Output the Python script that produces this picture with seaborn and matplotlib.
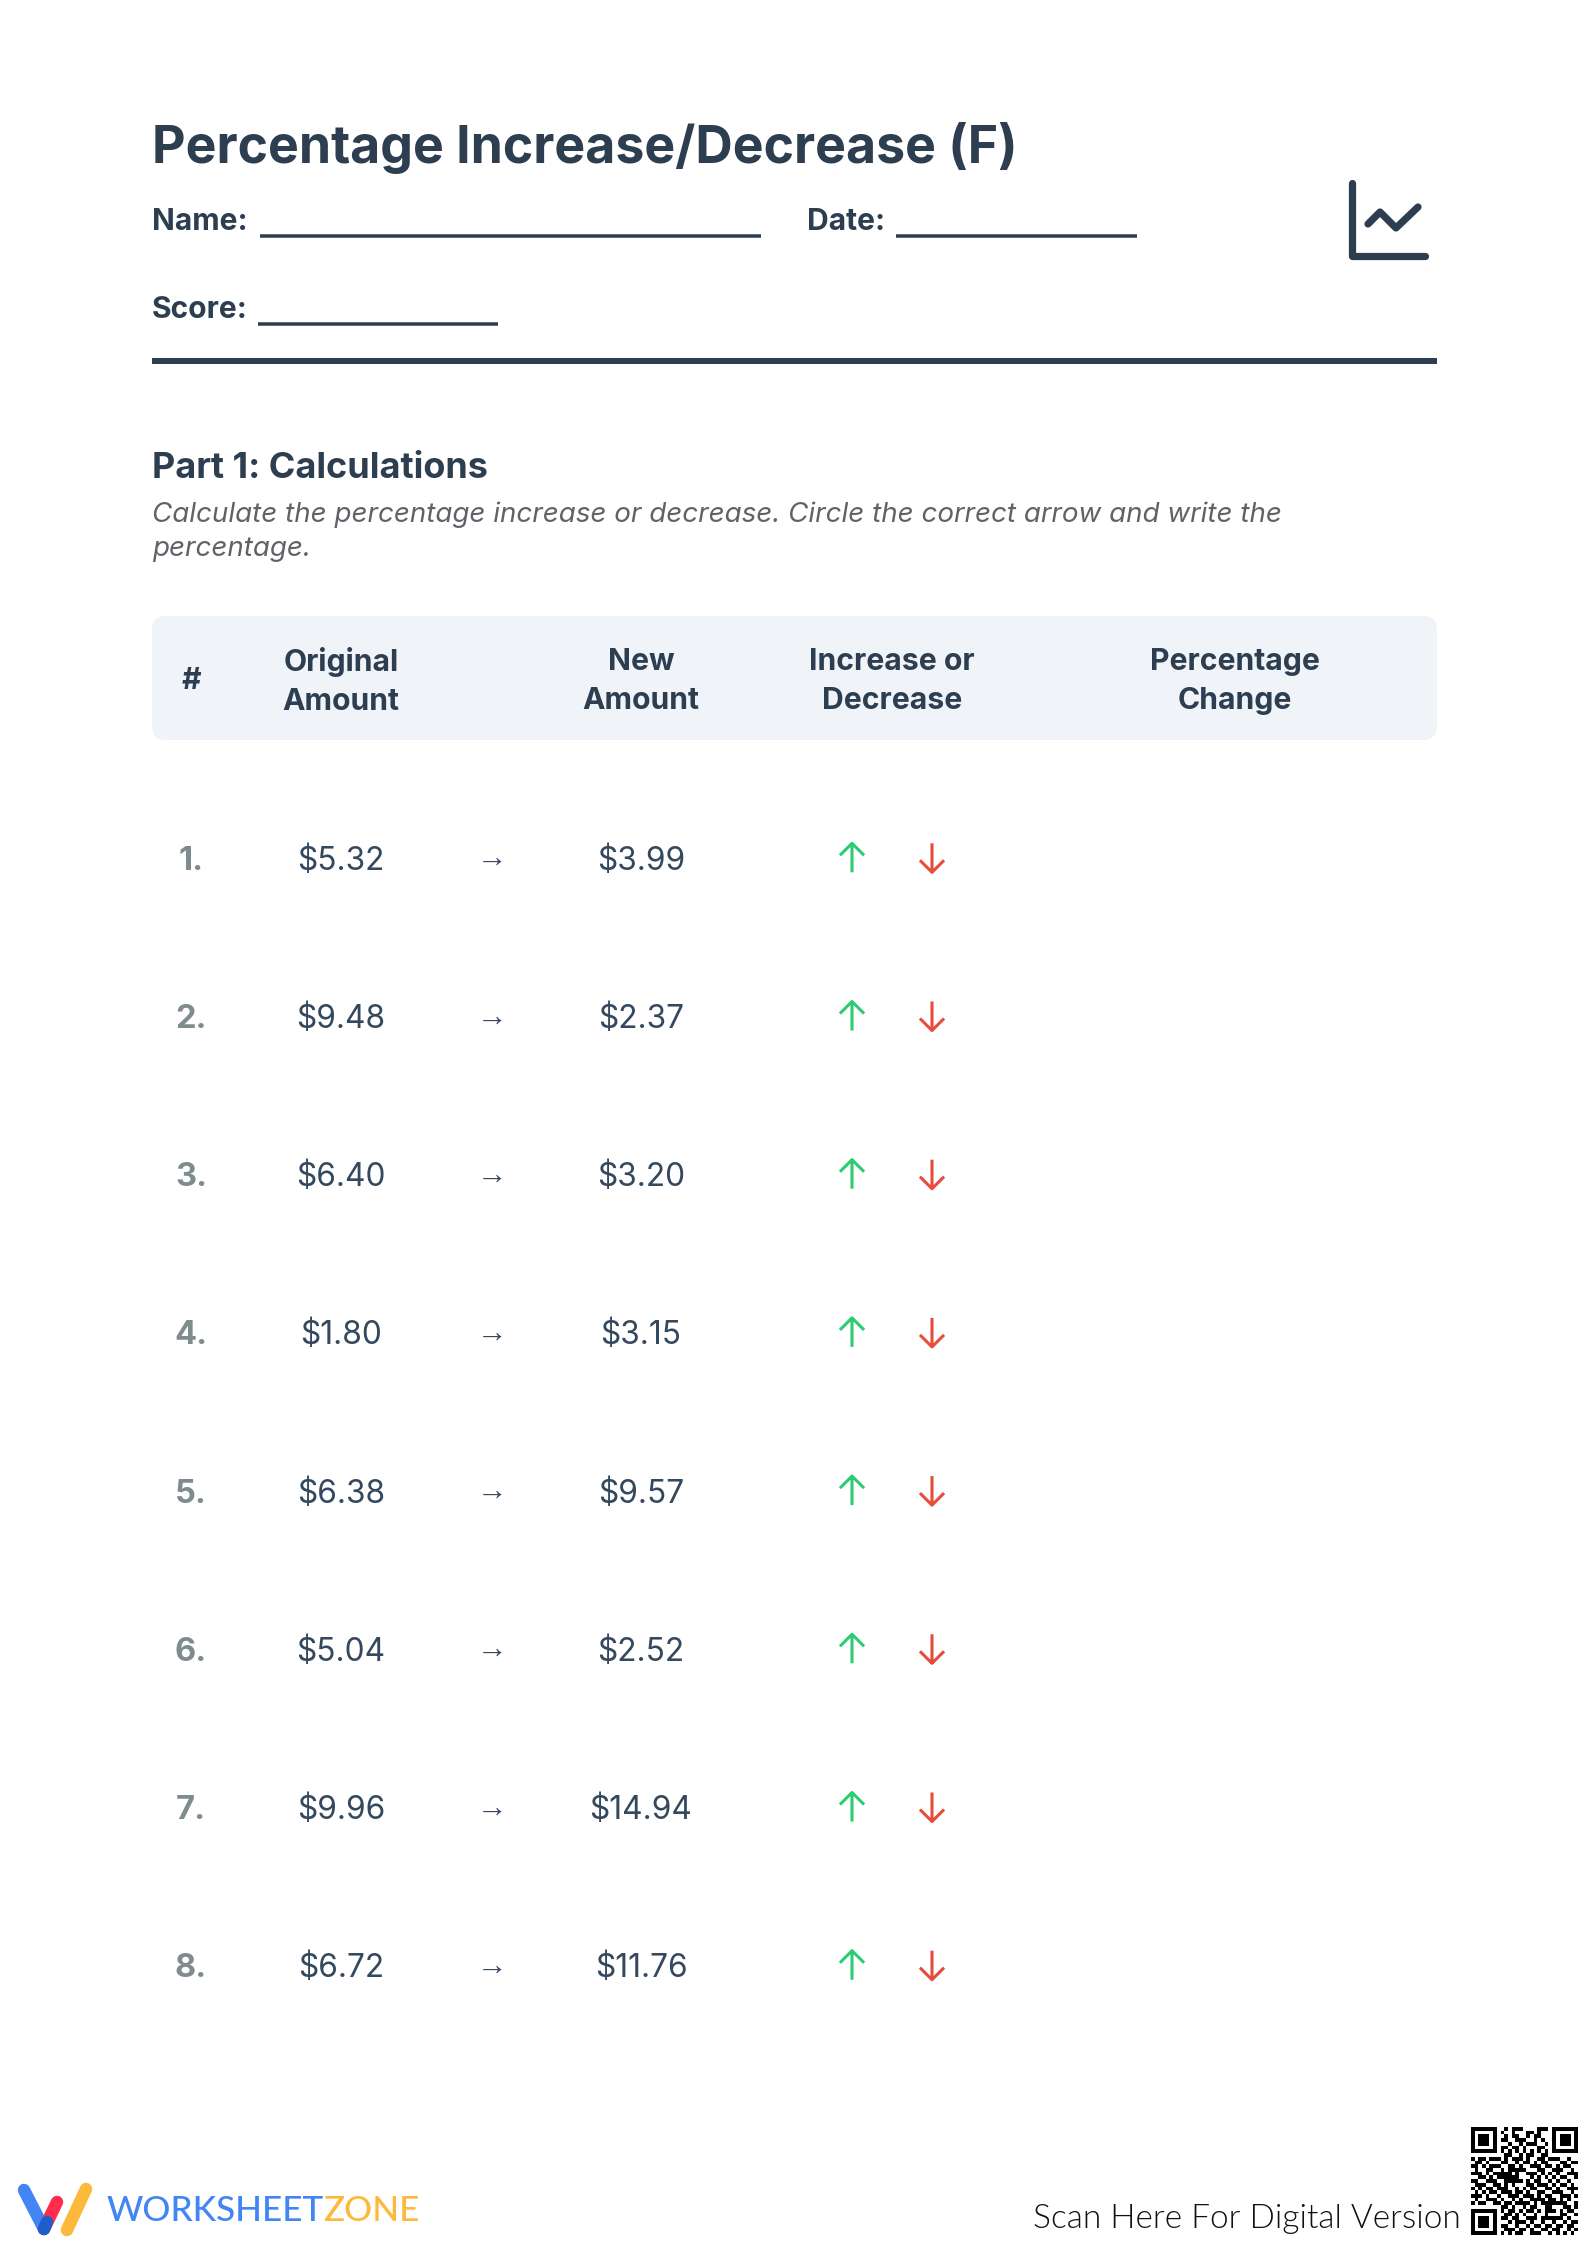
import numpy as np
import pandas as pd
import matplotlib.pyplot as plt
from matplotlib.patches import FancyBboxPatch
from matplotlib.path import Path
import seaborn as sns

row_labels = ['1.', '2.', '3.', '4.', '5.', '6.', '7.', '8.']
original_amounts = ['$5.32', '$9.48', '$6.40', '$1.80', '$6.38', '$5.04', '$9.96', '$6.72']
new_amounts = ['$3.99', '$2.37', '$3.20', '$3.15', '$9.57', '$2.52', '$14.94', '$11.76']
header_cols = ['#', 'Original\nAmount', 'New\nAmount', 'Increase or\nDecrease', 'Percentage\nChange']

qr_rows = [
    '1111111 0 0101110000111 0 1111111',
    '1000001 0 1001000110100 0 1000001',
    '1011101 0 0101100101100 0 1011101',
    '1011101 0 1100111001010 0 1011101',
    '1011101 0 0010010111001 0 1011101',
    '1000001 0 1101101000110 0 1000001',
    '1111111 0 1010101010101 0 1111111',
    '0000000 0 0110010110011 0 0000000',
    '1011011 1 0101110100110 1 1100100',
    '0110100 0 1100101101011 0 0011011',
    '1101011 1 0011010011101 1 0101100',
    '0100110 0 1011111000110 0 1110010',
    '1110101 1 1110100111010 1 0100111',
    '0011010 1 1111100010101 0 1011001',
    '1100111 0 0111110101100 1 0100100',
    '0111001 1 0101000110111 0 1011010',
    '1010110 1 1100101011001 1 0100111',
    '0101011 0 1110110100110 0 1110010',
    '1110100 1 0011101110101 1 0011101',
    '0100111 0 1001010011110 1 1010100',
    '1011001 1 0110111101011 1 1111001',
    '0000000 0 1101001011001 1 0001101',
    '1111111 0 1011010110101 1 1010110',
    '1000001 0 0110101001001 0 0011001',
    '1011101 0 1101100111011 1 1110100',
    '1011101 0 0010111010010 0 1001011',
    '1011101 0 1100100101101 1 0110110',
    '1000001 0 0111011010011 0 1100101',
    '1111111 0 1010110011100 1 0101010',
]

# ---- styles ----
DARK = '#2C3E50'
VALUE = '#34495E'
GREY = '#7F8C8D'
FONT = 'Inter'
HEAVY = 'bold'

sns.set_theme(style='white')
plt.rcParams['font.family'] = [FONT, 'Noto Sans', 'DejaVu Sans']

fig = plt.figure(figsize=(15.88, 22.44), dpi=100, facecolor='white')
ax = fig.add_axes([0, 0, 1, 1])
ax.set_xlim(0, 1588)
ax.set_ylim(2244, 0)
ax.axis('off')

def rule(x0, x1, y, lw_px, color=DARK):
    ax.plot([x0, x1], [y, y], color=color, lw=lw_px * 0.72, solid_capstyle='butt')

# ---- title block ----
ax.text(152, 163, 'Percentage Increase/Decrease (F)', fontsize=37.3, fontweight=HEAVY,
        color=DARK, va='baseline')
ax.text(152, 230, 'Name:', fontsize=21.6, fontweight=HEAVY, color=DARK, va='baseline')
rule(260, 761, 236, 3.5)
ax.text(807, 230, 'Date:', fontsize=21.6, fontweight=HEAVY, color=DARK, va='baseline')
rule(896, 1137, 236, 3.5)
ax.text(152, 318, 'Score:', fontsize=21.6, fontweight=HEAVY, color=DARK, va='baseline')
rule(258, 498, 324, 3.5)
rule(152, 1437, 361, 6)

# chart icon, top right
ax.plot([1352, 1352, 1425], [183, 256, 256], color=DARK, lw=5.2,
        solid_capstyle='round', solid_joinstyle='round')
ax.plot([1368, 1380, 1396, 1418], [224, 212, 228, 207], color=DARK, lw=5.2,
        solid_capstyle='round', solid_joinstyle='round')

# ---- part heading ----
ax.text(152, 478, 'Part 1: Calculations', fontsize=25.9, fontweight=HEAVY, color=DARK, va='baseline')
ax.text(152, 522, 'Calculate the percentage increase or decrease. Circle the correct arrow and write the',
        fontsize=20, fontstyle='italic', color='#5F6368', va='baseline')
ax.text(152, 556, 'percentage.', fontsize=20, fontstyle='italic', color='#5F6368', va='baseline')

# ---- table header ----
ax.add_patch(FancyBboxPatch((164, 628), 1261, 100, boxstyle='round,pad=12,rounding_size=14',
                            facecolor='#F0F3F8', edgecolor='none'))
col_x = [191, 341, 641, 892, 1235]
for x, label in zip(col_x, header_cols):
    ax.text(x, 681, label, fontsize=21.7, fontweight=HEAVY, color=DARK, ha='center', va='center',
            linespacing=1.5)

# ---- table rows ----
row_y = 857.8 + 158.2 * np.arange(len(row_labels))
table = pd.DataFrame({
    'row': row_labels,
    'original': original_amounts,
    'new': new_amounts,
    'y': row_y,
    'up_x': 852,
    'down_x': 932,
})

for r in table.itertuples():
    ax.text(191, r.y, r.row, fontsize=23.5, fontweight=HEAVY, color=GREY, ha='center', va='center_baseline')
    ax.text(341, r.y, r.original, fontsize=22.8, color=VALUE, ha='center', va='center_baseline')
    ax.text(492, r.y - 1, '→', fontsize=22, color=VALUE, ha='center', va='center_baseline',
            family='Liberation Sans')
    ax.text(641, r.y, r.new, fontsize=22.8, color=VALUE, ha='center', va='center_baseline')

up_arrow = Path([(0, -1), (0, 1), (-0.83, 0.17), (0, 1), (0.83, 0.17)],
                [Path.MOVETO, Path.LINETO, Path.MOVETO, Path.LINETO, Path.LINETO])
down_arrow = Path([(0, 1), (0, -1), (-0.83, -0.17), (0, -1), (0.83, -0.17)],
                  [Path.MOVETO, Path.LINETO, Path.MOVETO, Path.LINETO, Path.LINETO])
sns.scatterplot(data=table, x='up_x', y='y', marker=up_arrow, s=437, facecolor='none',
                edgecolor='#2ECC71', linewidth=2.2, legend=False, ax=ax)
sns.scatterplot(data=table, x='down_x', y='y', marker=down_arrow, s=437, facecolor='none',
                edgecolor='#E74C3C', linewidth=2.2, legend=False, ax=ax)
ax.set_xlim(0, 1588)
ax.set_ylim(2244, 0)
ax.axis('off')

# ---- footer logo ----
ax.plot([24, 44], [2190, 2229], color='#4285F4', lw=9, solid_capstyle='round')
ax.plot([57, 44], [2202, 2229], color='#FF2D4B', lw=9, solid_capstyle='round')
ax.plot([47, 44], [2222, 2229], color='#1F5FCC', lw=9, solid_capstyle='round')
ax.plot([86, 67], [2189, 2230], color='#FDB93C', lw=9, solid_capstyle='round')
ax.text(107, 2221, 'WORKSHEET', fontsize=25.2, fontweight='medium', color='#4285F4',
        family='Lato', va='baseline')
ax.text(323, 2221, 'ZONE', fontsize=25.2, fontweight='medium', color='#FDB93C', family='Lato', va='baseline')
ax.text(1033, 2228, 'Scan Here For Digital Version', fontsize=24, fontweight=300, color='#111111',
        family='Lato', va='baseline')

# ---- QR code as a heatmap ----
qr = np.array([[int(c) for c in row.replace(' ', '')] for row in qr_rows])
ax_qr = fig.add_axes([1471 / 1588, 1 - 2235 / 2244, 107 / 1588, 108 / 2244])
sns.heatmap(qr, cmap=['white', 'black'], cbar=False, square=False, xticklabels=False,
            yticklabels=False, ax=ax_qr)

fig.savefig('out.png', dpi=100, facecolor='white')
